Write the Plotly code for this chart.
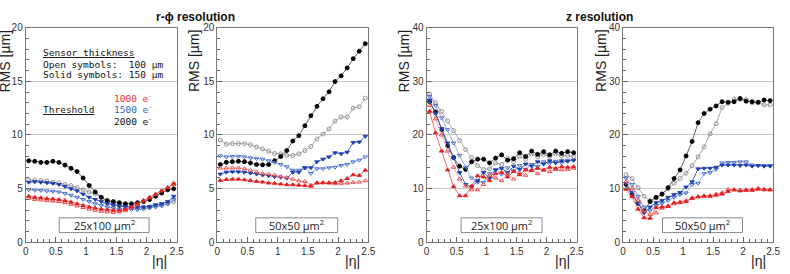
import plotly.graph_objects as go

W, H = 790, 274

eta = [0.05, 0.15, 0.25, 0.35, 0.45, 0.55, 0.65, 0.75, 0.85, 0.95, 1.05, 1.15, 1.25,
       1.35, 1.45, 1.55, 1.65, 1.75, 1.85, 1.95, 2.05, 2.15, 2.25, 2.35, 2.45]

# r-phi resolution, 25x100 um^2
rphi_25_red_s = [4.3, 4.2, 4.15, 4.1, 4.05, 4.0, 3.9, 3.75, 3.6, 3.45, 3.3, 3.2, 3.1, 3.05, 3.0, 3.0, 3.1, 3.3, 3.6, 3.9, 4.2, 4.5, 4.8, 5.1, 5.5]
rphi_25_red_o = [4.1, 4.0, 3.95, 3.9, 3.85, 3.8, 3.7, 3.55, 3.4, 3.25, 3.1, 3.0, 2.9, 2.85, 2.8, 2.85, 2.95, 3.2, 3.5, 3.85, 4.15, 4.45, 4.8, 5.1, 5.4]
rphi_25_blue_s = [5.6, 5.65, 5.6, 5.55, 5.5, 5.4, 5.2, 5.0, 4.8, 4.5, 4.2, 4.0, 3.8, 3.6, 3.5, 3.4, 3.35, 3.3, 3.3, 3.3, 3.35, 3.5, 3.6, 3.8, 4.3]
rphi_25_blue_o = [4.9, 4.85, 4.85, 4.8, 4.75, 4.7, 4.55, 4.4, 4.2, 4.0, 3.8, 3.6, 3.45, 3.3, 3.2, 3.1, 3.1, 3.05, 3.05, 3.1, 3.2, 3.3, 3.4, 3.6, 4.0]
rphi_25_black_s = [7.6, 7.55, 7.45, 7.45, 7.55, 7.45, 7.2, 6.9, 6.6, 6.0, 5.3, 4.7, 4.2, 3.9, 3.8, 3.7, 3.6, 3.6, 3.7, 3.8, 4.0, 4.3, 4.6, 4.9, 5.0]
rphi_25_gray_o = [5.8, 5.8, 5.75, 5.7, 5.6, 5.55, 5.4, 5.3, 5.1, 4.9, 4.7, 4.5, 4.2, 3.8, 3.5, 3.4, 3.3, 3.25, 3.2, 3.25, 3.3, 3.4, 3.5, 3.6, 3.8]

# r-phi resolution, 50x50 um^2
rphi_50_red_s = [5.77, 5.86, 5.89, 5.89, 5.83, 5.77, 5.68, 5.62, 5.53, 5.5, 5.44, 5.38, 5.38, 5.33, 5.3, 5.24, 5.53, 5.56, 5.56, 5.59, 5.74, 5.95, 6.3, 6.24, 6.72]
rphi_50_red_o = [6.92, 6.92, 6.95, 6.95, 6.86, 6.72, 6.57, 6.42, 6.36, 6.27, 6.15, 6.04, 5.89, 5.74, 5.68, 5.33, 5.56, 5.56, 5.53, 5.47, 5.5, 5.53, 5.59, 5.62, 5.74]
rphi_50_blue_s = [6.36, 6.54, 6.57, 6.57, 6.54, 6.45, 6.36, 6.27, 6.2, 6.12, 6.07, 5.98, 6.54, 6.54, 6.95, 6.95, 7.5, 7.75, 7.96, 8.34, 8.25, 8.4, 9.3, 9.35, 9.88]
rphi_50_blue_o = [8.05, 7.96, 8.0, 8.0, 7.96, 7.87, 7.8, 7.75, 7.6, 7.45, 7.25, 7.04, 6.72, 6.72, 6.95, 6.42, 6.86, 6.86, 6.95, 7.0, 7.16, 7.25, 7.5, 7.66, 7.96]
rphi_50_black_s = [7.25, 7.46, 7.52, 7.55, 7.52, 7.4, 7.25, 7.22, 7.25, 7.6, 7.99, 8.55, 9.44, 9.94, 10.86, 11.8, 12.66, 13.37, 14.02, 14.97, 15.5, 16.24, 17.1, 17.8, 18.5]
rphi_50_gray_o = [9.53, 9.14, 9.2, 9.2, 9.2, 9.1, 8.88, 8.7, 8.5, 8.28, 8.25, 8.1, 8.1, 8.25, 8.55, 8.93, 9.64, 10.09, 10.56, 11.3, 11.66, 11.66, 12.5, 12.63, 13.43]

# z resolution, 25x100 um^2
z_25_red_s = [24.4, 20.4, 17.0, 13.5, 10.4, 8.7, 8.7, 10.5, 12.4, 12.2, 11.5, 12.8, 13.0, 12.2, 13.2, 12.6, 13.5, 13.4, 13.8, 13.5, 14.0, 13.8, 14.1, 14.0, 14.1]
z_25_red_o = [25.5, 23.0, 20.0, 17.0, 14.0, 11.8, 10.5, 9.8, 9.8, 10.8, 12.5, 12.0, 11.5, 12.8, 11.8, 13.0, 12.5, 13.5, 12.8, 13.5, 13.2, 13.6, 13.5, 13.6, 13.8]
z_25_blue_s = [26.5, 24.0, 21.2, 18.5, 15.7, 13.0, 10.8, 10.3, 11.5, 13.0, 12.0, 13.5, 13.8, 13.0, 14.2, 13.6, 14.6, 14.2, 15.0, 14.6, 15.2, 14.8, 15.2, 15.1, 15.3]
z_25_blue_o = [27.2, 25.5, 23.2, 21.0, 18.5, 16.2, 14.0, 12.0, 11.2, 11.2, 12.8, 13.5, 12.7, 13.9, 13.3, 14.3, 13.6, 14.5, 14.1, 15.0, 14.7, 15.1, 14.8, 15.3, 15.3]
z_25_black_s = [26.2, 24.3, 21.0, 18.0, 15.8, 14.2, 13.6, 15.0, 15.5, 15.5, 14.8, 15.7, 16.3, 15.3, 15.6, 16.7, 16.0, 17.0, 16.4, 16.9, 16.3, 17.0, 16.6, 16.9, 16.7]
z_25_gray_o = [27.6, 26.0, 24.4, 22.6, 20.8, 19.0, 17.3, 15.8, 14.3, 13.6, 13.7, 14.8, 14.5, 15.6, 15.0, 16.0, 15.5, 16.5, 15.9, 16.4, 16.0, 16.5, 16.1, 16.2, 16.0]

# z resolution, 50x50 um^2
z_50_red_s = [9.9, 8.5, 6.2, 4.6, 4.5, 6.5, 6.6, 6.7, 7.4, 7.5, 7.6, 8.2, 8.5, 8.6, 8.6, 8.8, 9.0, 9.5, 9.8, 9.6, 9.7, 9.7, 9.9, 9.8, 9.8]
z_50_red_o = [11.3, 10.0, 7.8, 5.8, 5.2, 5.5, 6.4, 6.8, 7.2, 7.4, 7.8, 8.3, 8.5, 8.7, 8.7, 9.0, 9.3, 9.9, 9.8, 9.7, 9.8, 9.9, 10.1, 9.9, 9.8]
z_50_blue_s = [11.0, 9.3, 7.2, 5.5, 6.6, 7.4, 7.8, 8.4, 8.9, 9.3, 10.3, 11.3, 13.7, 13.8, 13.8, 14.0, 14.4, 14.4, 14.4, 14.3, 14.4, 14.2, 14.3, 14.2, 14.2]
z_50_blue_o = [12.0, 10.8, 8.6, 6.6, 5.9, 6.9, 7.3, 7.8, 8.4, 8.9, 9.2, 10.8, 11.0, 12.8, 13.0, 13.6, 14.8, 14.9, 14.9, 15.0, 15.0, 14.4, 14.3, 14.3, 14.3]
z_50_black_s = [10.8, 8.9, 7.3, 5.9, 7.6, 8.4, 9.0, 10.2, 11.9, 13.5, 16.1, 18.8, 22.3, 24.0, 24.8, 25.4, 26.2, 26.1, 26.2, 26.8, 26.3, 26.2, 26.1, 26.5, 26.4]
z_50_gray_o = [12.6, 11.9, 10.2, 8.6, 7.8, 8.3, 9.0, 10.0, 11.0, 11.9, 12.9, 14.3, 15.9, 17.8, 20.2, 22.1, 25.1, 25.9, 26.7, 26.6, 26.6, 26.0, 26.0, 25.6, 25.6]

panels = [
    dict(series=[rphi_25_gray_o, rphi_25_black_s, rphi_25_blue_o, rphi_25_blue_s, rphi_25_red_o, rphi_25_red_s],
         ymax=20, dtick=5, minor=1, label="25x100 µm<sup>2</sup>"),
    dict(series=[rphi_50_gray_o, rphi_50_black_s, rphi_50_blue_o, rphi_50_blue_s, rphi_50_red_o, rphi_50_red_s],
         ymax=20, dtick=5, minor=1, label="50x50 µm<sup>2</sup>"),
    dict(series=[z_25_gray_o, z_25_black_s, z_25_blue_o, z_25_blue_s, z_25_red_o, z_25_red_s],
         ymax=40, dtick=10, minor=2, label="25x100 µm<sup>2</sup>"),
    dict(series=[z_50_gray_o, z_50_black_s, z_50_blue_o, z_50_blue_s, z_50_red_o, z_50_red_s],
         ymax=40, dtick=10, minor=2, label="50x50 µm<sup>2</sup>"),
]

styles = [
    dict(line="#a0a0a0", marker="circle-open", mcolor="#8a8a8a"),
    dict(line="#555555", marker="circle", mcolor="#000000"),
    dict(line="#8aa2dc", marker="triangle-down-open", mcolor="#3a64c8"),
    dict(line="#3a58b4", marker="triangle-down", mcolor="#1f3fb0"),
    dict(line="#f4a4a4", marker="triangle-up-open", mcolor="#e84040"),
    dict(line="#ea5a5a", marker="triangle-up", mcolor="#e02020"),
]

def px(x):
    return x / W

def py(y):
    return 1 - y / H

xdom = [(23, 176), (217, 370), (429, 581), (628, 780)]
ytop, ybot = 22.5, 247.3

fig = go.Figure()
layout = dict(width=W, height=H, margin=dict(l=0, r=0, t=0, b=0),
              paper_bgcolor="white", plot_bgcolor="white", showlegend=False,
              font=dict(family="Liberation Sans, Arial", color="#333333"))
annotations = []
shapes = []

for i, p in enumerate(panels):
    k = "" if i == 0 else str(i + 1)
    for s, st in zip(p["series"], styles):
        fig.add_trace(go.Scatter(
            x=eta, y=s, mode="lines+markers", xaxis="x" + k, yaxis="y" + k,
            line=dict(color=st["line"], width=0.9),
            marker=dict(symbol=st["marker"], size=4, color=st["mcolor"],
                        line=dict(width=0.9, color=st["mcolor"]))))
    layout["xaxis" + k] = dict(
        domain=[px(xdom[i][0]), px(xdom[i][1])], anchor="y" + k, range=[0, 2.5],
        dtick=0.5, tick0=0, ticks="inside", ticklen=5, tickcolor="#666",
        minor=dict(dtick=0.1, ticks="inside", ticklen=3, tickcolor="#666"),
        showgrid=False, zeroline=False, showline=True, linecolor="#777", linewidth=1,
        mirror=True, tickfont=dict(size=10, color="#333"))
    layout["yaxis" + k] = dict(
        domain=[py(ybot), py(ytop)], anchor="x" + k, range=[0, p["ymax"]],
        dtick=p["dtick"], tick0=0, ticks="inside", ticklen=5, tickcolor="#666",
        minor=dict(dtick=p["minor"], ticks="inside", ticklen=3, tickcolor="#666", showgrid=False),
        showgrid=True, gridcolor="#c8c8c8", gridwidth=1, zeroline=False,
        showline=True, linecolor="#777", linewidth=1, mirror=True,
        tickfont=dict(size=10, color="#333"))
    # size label box
    bx = [(57, 148), (256, 339), (464, 546), (668, 749)][i]
    shapes.append(dict(type="rect", xref="paper", yref="paper",
                       x0=px(bx[0]), x1=px(bx[1]), y0=py(237), y1=py(221.5),
                       line=dict(color="#888", width=1), fillcolor="white", layer="above"))
    annotations.append(dict(x=px((bx[0] + bx[1]) / 2), y=py(229.5), xref="paper", yref="paper",
                            text=p["label"], showarrow=False, xanchor="center", yanchor="middle",
                            font=dict(family="Open Sans", size=11, color="#222")))
    # axis titles
    ytx = [2, 193, 406, 605][i]
    annotations.append(dict(x=px(ytx), y=py(22), xref="paper", yref="paper", text="RMS [µm]",
                            showarrow=False, textangle=-90, xanchor="center", yanchor="top",
                            font=dict(family="Liberation Sans, Arial", size=14, color="#222")))
    xtx = [159, 354, 567, 765][i]
    annotations.append(dict(x=px(xtx), y=py(267), xref="paper", yref="paper", text="|η|",
                            showarrow=False, xanchor="center", yanchor="middle",
                            font=dict(family="Liberation Sans, Arial", size=14, color="#222")))

annotations.append(dict(x=px(195), y=py(11), xref="paper", yref="paper", text="<b>r-ϕ resolution</b>",
                        showarrow=False, xanchor="center", yanchor="middle",
                        font=dict(family="Liberation Sans, Arial", size=12, color="#111")))
annotations.append(dict(x=px(604), y=py(11), xref="paper", yref="paper", text="<b>z resolution</b>",
                        showarrow=False, xanchor="center", yanchor="middle",
                        font=dict(family="Liberation Sans, Arial", size=12, color="#111")))

mono = "DejaVu Sans Mono"
ul = '<span style="text-decoration:underline">{}</span>'
legend_items = [
    (38, 49, ul.format("Sensor thickness"), "#111"),
    (38, 61, "Open symbols:  100 µm", "#111"),
    (38, 72, "Solid symbols: 150 µm", "#111"),
    (38, 108, ul.format("Threshold"), "#111"),
    (110, 96, "1000 e<sup>-</sup>", "#e83030"),
    (110, 108, "1500 e<sup>-</sup>", "#2a6cc0"),
    (110, 120, "2000 e<sup>-</sup>", "#111"),
]
for x, y, t, c in legend_items:
    annotations.append(dict(x=px(x), y=py(y), xref="paper", yref="paper", text=t, showarrow=False,
                            xanchor="left", yanchor="middle",
                            font=dict(family=mono, size=9.5, color=c)))

layout["annotations"] = annotations
layout["shapes"] = shapes
fig.update_layout(**layout)
fig.write_html("out.html")
